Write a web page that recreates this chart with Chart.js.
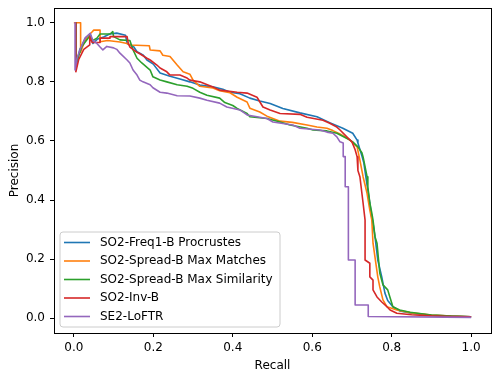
<!DOCTYPE html>
<html>
<head>
<meta charset="utf-8">
<script src="https://cdn.jsdelivr.net/npm/chart.js@4.4.0/dist/chart.umd.min.js"></script>
<style>
  html, body { margin: 0; padding: 0; background: #fff; }
  canvas { display: block; }
</style>
</head>
<body>
<canvas id="canvas" width="500" height="381"></canvas>
<script>
var seriesNames = ['SO2-Freq1-B Procrustes', 'SO2-Spread-B Max Matches', 'SO2-Spread-B Max Similarity', 'SO2-Inv-B', 'SE2-LoFTR'];
var seriesColors = ['#1f77b4', '#ff7f0e', '#2ca02c', '#d62728', '#9467bd'];
var xTicks = [0.0, 0.2, 0.4, 0.6, 0.8, 1.0];
var yTicks = [0.0, 0.2, 0.4, 0.6, 0.8, 1.0];

// [recall, precision]
var freqPoints = [[0.005,1.0],[0.005,0.85],[0.015,0.91],[0.03,0.95],[0.041,0.962],[0.048,0.93],[0.06,0.945],[0.075,0.952],[0.09,0.962],[0.108,0.965],[0.13,0.958],[0.134,0.93],[0.15,0.92],[0.159,0.902],[0.175,0.89],[0.184,0.874],[0.2,0.86],[0.217,0.83],[0.24,0.82],[0.267,0.81],[0.292,0.8],[0.317,0.789],[0.35,0.783],[0.375,0.775],[0.393,0.765],[0.418,0.76],[0.443,0.745],[0.468,0.735],[0.494,0.727],[0.526,0.71],[0.569,0.695],[0.612,0.682],[0.644,0.662],[0.677,0.643],[0.702,0.626],[0.713,0.603],[0.715,0.593],[0.725,0.55],[0.73,0.525],[0.738,0.451],[0.745,0.39],[0.75,0.34],[0.753,0.322],[0.758,0.276],[0.765,0.197],[0.775,0.14],[0.783,0.085],[0.79,0.06],[0.803,0.039],[0.82,0.025],[0.85,0.017],[0.9,0.01],[0.95,0.007],[1.0,0.005]];
var matchesPoints = [[0.0,1.0],[0.017,1.0],[0.017,0.9],[0.025,0.93],[0.035,0.955],[0.045,0.968],[0.05,0.975],[0.066,0.975],[0.066,0.936],[0.085,0.94],[0.116,0.935],[0.134,0.93],[0.141,0.925],[0.19,0.922],[0.192,0.908],[0.217,0.905],[0.224,0.89],[0.242,0.886],[0.26,0.857],[0.275,0.834],[0.292,0.826],[0.3,0.806],[0.317,0.785],[0.35,0.779],[0.367,0.77],[0.393,0.763],[0.411,0.748],[0.436,0.732],[0.443,0.711],[0.468,0.698],[0.486,0.684],[0.519,0.667],[0.55,0.663],[0.587,0.654],[0.612,0.647],[0.637,0.643],[0.652,0.635],[0.67,0.624],[0.695,0.603],[0.713,0.58],[0.72,0.535],[0.728,0.479],[0.738,0.423],[0.745,0.366],[0.75,0.332],[0.753,0.254],[0.765,0.14],[0.77,0.106],[0.778,0.062],[0.788,0.039],[0.813,0.028],[0.85,0.018],[0.9,0.011],[0.95,0.007],[1.0,0.005]];
var similarityPoints = [[0.005,1.0],[0.005,0.86],[0.02,0.92],[0.04,0.955],[0.048,0.94],[0.058,0.948],[0.066,0.962],[0.091,0.962],[0.098,0.97],[0.1,0.953],[0.116,0.942],[0.141,0.94],[0.149,0.908],[0.159,0.88],[0.171,0.864],[0.192,0.84],[0.199,0.817],[0.217,0.806],[0.234,0.8],[0.26,0.79],[0.285,0.785],[0.3,0.778],[0.317,0.765],[0.335,0.755],[0.367,0.745],[0.38,0.73],[0.4,0.72],[0.411,0.71],[0.436,0.693],[0.443,0.682],[0.486,0.676],[0.519,0.664],[0.544,0.654],[0.587,0.643],[0.602,0.637],[0.637,0.634],[0.662,0.626],[0.695,0.603],[0.702,0.597],[0.715,0.58],[0.725,0.56],[0.728,0.546],[0.738,0.479],[0.74,0.444],[0.745,0.39],[0.75,0.356],[0.753,0.332],[0.758,0.276],[0.763,0.254],[0.77,0.153],[0.778,0.113],[0.79,0.096],[0.796,0.069],[0.803,0.039],[0.82,0.028],[0.846,0.02],[0.9,0.011],[0.95,0.007],[1.0,0.005]];
var invPoints = [[0.005,1.0],[0.005,0.834],[0.012,0.875],[0.025,0.91],[0.04,0.925],[0.04,0.953],[0.046,0.933],[0.066,0.933],[0.066,0.948],[0.091,0.948],[0.091,0.953],[0.134,0.953],[0.137,0.93],[0.141,0.918],[0.159,0.9],[0.166,0.895],[0.184,0.88],[0.192,0.874],[0.209,0.857],[0.217,0.847],[0.234,0.834],[0.242,0.823],[0.267,0.823],[0.285,0.813],[0.292,0.806],[0.317,0.8],[0.35,0.783],[0.367,0.772],[0.411,0.765],[0.436,0.762],[0.461,0.748],[0.476,0.715],[0.494,0.705],[0.519,0.693],[0.569,0.69],[0.587,0.68],[0.627,0.67],[0.644,0.66],[0.662,0.647],[0.67,0.637],[0.687,0.614],[0.7,0.597],[0.708,0.57],[0.713,0.546],[0.715,0.5],[0.72,0.479],[0.725,0.423],[0.728,0.39],[0.733,0.332],[0.733,0.197],[0.745,0.186],[0.745,0.14],[0.753,0.129],[0.753,0.096],[0.763,0.072],[0.775,0.055],[0.788,0.039],[0.796,0.028],[0.813,0.017],[0.85,0.012],[0.9,0.008],[0.95,0.006],[1.0,0.005]];
var loftrPoints = [[0.003,1.0],[0.003,0.84],[0.008,0.88],[0.015,0.907],[0.028,0.948],[0.041,0.964],[0.048,0.94],[0.058,0.93],[0.066,0.918],[0.073,0.908],[0.083,0.92],[0.1,0.915],[0.108,0.91],[0.116,0.897],[0.134,0.874],[0.141,0.864],[0.149,0.84],[0.159,0.823],[0.166,0.806],[0.174,0.8],[0.192,0.79],[0.199,0.78],[0.217,0.765],[0.234,0.762],[0.26,0.753],[0.292,0.752],[0.317,0.745],[0.335,0.738],[0.367,0.728],[0.385,0.715],[0.418,0.705],[0.436,0.688],[0.486,0.676],[0.501,0.664],[0.551,0.654],[0.569,0.643],[0.619,0.637],[0.637,0.63],[0.652,0.626],[0.662,0.614],[0.67,0.597],[0.678,0.593],[0.678,0.547],[0.683,0.547],[0.683,0.445],[0.691,0.445],[0.691,0.197],[0.708,0.197],[0.708,0.045],[0.741,0.045],[0.741,0.006],[1.0,0.003]];

var allPoints = [freqPoints, matchesPoints, similarityPoints, invPoints, loftrPoints];

Chart.defaults.font.family = 'DejaVu Sans';
Chart.defaults.font.size = 12;
Chart.defaults.color = '#000';

var datasets = allPoints.map(function(pts, i) {
    return {
        label: seriesNames[i],
        data: pts.map(function(p) { return {x: p[0], y: p[1]}; }),
        borderColor: seriesColors[i],
        backgroundColor: seriesColors[i],
        borderWidth: 1.6,
        borderJoinStyle: 'round',
        pointRadius: 0,
        tension: 0,
        fill: false,
        order: 5 - i
    };
});

// box round the plot, like matplotlib spines
var framePlugin = {
    id: 'frame',
    afterDatasetsDraw: function(chart) {
        var a = chart.chartArea, c = chart.ctx;
        c.save();
        c.strokeStyle = '#000';
        c.lineWidth = 1;
        c.strokeRect(a.left + 0.5, a.top + 0.5, a.right - a.left, a.bottom - a.top);
        c.restore();
    }
};

// legend in the lower left corner of the plot
var innerLegend = {
    id: 'innerLegend',
    afterDatasetsDraw: function(chart) {
        var a = chart.chartArea, c = chart.ctx;
        var x0 = a.left + 6, w = 220, h = 95, y0 = a.bottom - 6 - h, r = 3;
        c.save();
        c.beginPath();
        c.moveTo(x0 + r, y0);
        c.arcTo(x0 + w, y0, x0 + w, y0 + h, r);
        c.arcTo(x0 + w, y0 + h, x0, y0 + h, r);
        c.arcTo(x0, y0 + h, x0, y0, r);
        c.arcTo(x0, y0, x0 + w, y0, r);
        c.closePath();
        c.fillStyle = 'rgba(255,255,255,0.8)';
        c.fill();
        c.strokeStyle = '#cccccc';
        c.lineWidth = 1;
        c.stroke();
        c.font = '12px "DejaVu Sans"';
        c.textBaseline = 'middle';
        c.textAlign = 'left';
        chart.data.datasets.forEach(function(ds, i) {
            var y = y0 + 10.5 + i * 18.5;
            c.strokeStyle = ds.borderColor;
            c.lineWidth = 1.6;
            c.beginPath();
            c.moveTo(x0 + 4, y);
            c.lineTo(x0 + 30, y);
            c.stroke();
            c.fillStyle = '#000';
            c.fillText(ds.label, x0 + 40, y);
        });
        c.restore();
    }
};

var ctx = document.getElementById('canvas').getContext('2d');
var config = {
    type: 'line',
    data: { datasets: datasets },
    options: {
        responsive: false,
        animation: false,
        layout: { padding: { left: 0, top: 8, right: 9, bottom: 0 } },
        plugins: { legend: { display: false }, tooltip: { enabled: false } },
        scales: {
            x: {
                type: 'linear',
                min: -0.05,
                max: 1.05,
                afterBuildTicks: function(s) { s.ticks = xTicks.map(function(v) { return {value: v}; }); },
                afterFit: function(s) { s.height = 48; s.paddingLeft = 0; s.paddingRight = 0; },
                ticks: { padding: 4, maxRotation: 0, callback: function(v) { return v.toFixed(1); } },
                grid: { drawOnChartArea: false, drawTicks: true, tickLength: 4, tickColor: '#000', tickWidth: 1 },
                border: { display: false },
                title: { display: true, text: 'Recall', padding: { top: 0, bottom: 8 } }
            },
            y: {
                type: 'linear',
                min: -0.05,
                max: 1.05,
                afterBuildTicks: function(s) { s.ticks = yTicks.map(function(v) { return {value: v}; }); },
                afterFit: function(s) { s.width = 54; s.paddingTop = 0; s.paddingBottom = 0; },
                ticks: { padding: 5, callback: function(v) { return v.toFixed(1); } },
                grid: { drawOnChartArea: false, drawTicks: true, tickLength: 4, tickColor: '#000', tickWidth: 1 },
                border: { display: false },
                title: { display: true, text: 'Precision', padding: { top: 8, bottom: 0 } }
            }
        }
    },
    plugins: [framePlugin, innerLegend]
};

var chart = new Chart(ctx, config);
</script>
</body>
</html>
